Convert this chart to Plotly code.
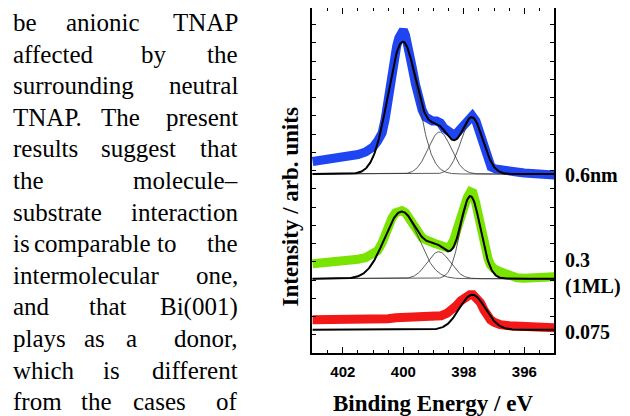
import numpy as np
import plotly.graph_objects as go

# ---------------- data (binding energy in eV, intensity in arb. units above each baseline) -------------
e_06 = [403.0, 402.75, 402.5, 402.25, 402.0, 401.75, 401.5, 401.25, 401.0, 400.85, 400.7, 400.6,
        400.48, 400.4, 400.31, 400.22, 400.15, 400.07, 400.0, 399.93, 399.85, 399.71, 399.6, 399.49,
        399.38, 399.27, 399.15, 399.04, 398.9, 398.77, 398.66, 398.5, 398.33, 398.2, 398.0, 397.85,
        397.72, 397.6, 397.5, 397.4, 397.3, 397.2, 397.1, 396.95, 396.8, 396.5, 396.25, 396.0,
        395.75, 395.5, 395.25, 395.0]
i_06 = [12.5, 13.5, 14.5, 15, 16, 17.5, 19.5, 22, 27, 33, 41, 55,
        81, 98, 117, 128, 136, 142, 144, 139, 130, 107, 90, 74,
        64, 57, 54, 53, 53, 51, 46, 42, 39, 42, 49, 55,
        58, 53, 44, 32, 20, 12, 7, 5, 4, 3, 2, 1,
        0, -1, -1, -1]

e_03 = [403.0, 402.75, 402.5, 402.25, 402.0, 401.75, 401.5, 401.25, 401.0, 400.85, 400.7, 400.6,
        400.48, 400.37, 400.26, 400.15, 400.05, 399.93, 399.82, 399.71, 399.6, 399.49, 399.38, 399.27,
        399.16, 399.05, 398.94, 398.83, 398.7, 398.55, 398.44, 398.33, 398.22, 398.11, 398.0, 397.89,
        397.78, 397.7, 397.61, 397.53, 397.45, 397.37, 397.28, 397.2, 397.12, 397.0, 396.79, 396.6,
        396.46, 396.25, 396.0, 395.75, 395.5, 395.25, 395.0]
i_03 = [15, 15.5, 16, 16.5, 17.5, 18.5, 19.5, 21, 24, 28, 36, 45,
        55, 61, 66, 68, 68, 66, 61, 54, 49, 45, 41, 39,
        37, 36, 35, 34, 33, 31, 33, 39, 50, 62, 73, 81,
        87, 86, 76, 64, 52, 40, 29, 20, 14, 10, 7, 4,
        2.5, 1, 0.5, 1, 1.5, 2, 2]

e_0075 = [403.0, 402.75, 402.5, 402.25, 402.0, 401.75, 401.5, 401.25, 401.0, 400.75, 400.5, 400.25,
          400.0, 399.75, 399.5, 399.25, 399.0, 398.75, 398.55, 398.4, 398.25, 398.1, 397.95, 397.8,
          397.7, 397.56, 397.45, 397.34, 397.22, 397.12, 397.0, 396.8, 396.5, 396.25, 396.0, 395.75,
          395.5, 395.25, 395.0]
i_0075 = [10, 10, 10, 10, 10, 9.5, 9.5, 9.5, 9.5, 10, 11, 12,
          12.5, 12, 11.5, 12, 12.5, 14, 16.5, 19.5, 24, 29, 33, 35,
          35, 32, 27, 20, 14, 10, 7.5, 5, 4, 3.5, 3.5, 3,
          3, 2.5, 2]

# fitted components: centre (eV), height, gaussian sigma (eV)
fit_06_centers = [400.02, 398.8, 397.73]
fit_06_heights = [132, 42, 56]
fit_06_sigmas = [0.485, 0.38, 0.36]

fit_03_centers = [400.06, 398.83, 397.78]
fit_03_heights = [67, 27, 82]
fit_03_sigmas = [0.56, 0.38, 0.33]

fit_0075_centers = [397.72]
fit_0075_heights = [35]
fit_0075_sigmas = [0.43]

offsets = [179.0, 74.3, 23.3]        # vertical offsets of the three spectra
labels = ["0.6nm", "0.3<br>(1ML)", "0.075"]
colors = ["#1f44f2", "#78e400", "#f21818"]

x_ticks = [402, 400, 398, 396]

paragraph = [
    ["be", "anionic", "TNAP"],
    ["affected", "by", "the"],
    ["surrounding", "neutral"],
    ["TNAP.", "The", "present"],
    ["results", "suggest", "that"],
    ["the", "molecule\u2013"],
    ["substrate", "interaction"],
    ["is", "comparable", "to", "the"],
    ["intermolecular", "one,"],
    ["and", "that", "Bi(001)"],
    ["plays", "as", "a", "donor,"],
    ["which", "is", "different"],
    ["from", "the", "cases", "of"],
]
# measured left edges (px) of the middle words of each line
middle_lefts = [
    [65], [140], [], [100], [100], [], [], [33, 156], [], [88], [83, 125], [102], [80, 132],
]

# ---------------- figure -------------
OFF = 8                      # page body margin of the browser
W, H = 630 - OFF, 416 - OFF
L, T, B = 312 - OFF, 0, 63
pw = 242
R = W - L - pw
ph = H - T - B


def px(xp):
    return (xp - OFF - L) / pw


def py(yp):
    return (H - B - (yp - OFF)) / ph


fig = go.Figure()
grid = np.linspace(403, 395, 481)

series = [
    (e_06, i_06, fit_06_centers, fit_06_heights, fit_06_sigmas),
    (e_03, i_03, fit_03_centers, fit_03_heights, fit_03_sigmas),
    (e_0075, i_0075, fit_0075_centers, fit_0075_heights, fit_0075_sigmas),
]
for k, (ee, ii, cc, hh, ss) in enumerate(series):
    off = offsets[k]
    fig.add_trace(go.Scatter(x=ee, y=[v + off for v in ii], mode="lines",
                             line=dict(color=colors[k], width=9), showlegend=False,
                             hoverinfo="skip"))
    total = np.zeros_like(grid)
    comps = []
    for c, h, s in zip(cc, hh, ss):
        g = h * np.exp(-((grid - c) ** 2) / (2 * s ** 2))
        comps.append(g)
        total += g
    if len(comps) > 1:
        for g in comps:
            fig.add_trace(go.Scatter(x=grid, y=g + off, mode="lines",
                                     line=dict(color="#333333", width=0.8),
                                     showlegend=False, hoverinfo="skip"))
    fig.add_trace(go.Scatter(x=grid, y=total + off, mode="lines",
                             line=dict(color="black", width=2), showlegend=False,
                             hoverinfo="skip"))

fig.update_layout(
    width=W, height=H, margin=dict(l=L, r=R, t=T, b=B, pad=0, autoexpand=False),
    paper_bgcolor="white", plot_bgcolor="white", showlegend=False,
    font=dict(family="Liberation Serif", color="black"),
)
fig.update_xaxes(
    range=[403.02, 395.02], autorange=False, showgrid=False, zeroline=False,
    showline=True, linecolor="black", linewidth=1.5, mirror="ticks",
    ticks="inside", ticklen=6, tickwidth=1.2, tickcolor="black",
    tickvals=x_ticks, ticktext=[str(v) for v in x_ticks],
    tickfont=dict(family="Liberation Sans", size=15, color="black", weight="bold"),
    ticklabelstandoff=4, automargin=False,
    minor=dict(dtick=0.5, ticks="inside", ticklen=3, tickwidth=1, tickcolor="black", showgrid=False),
)
fig.update_yaxes(
    range=[0, ph], autorange=False, showgrid=False, zeroline=False,
    showline=True, linecolor="black", linewidth=1.5, mirror="ticks",
    ticks="inside", ticklen=4, tickwidth=1, tickcolor="black",
    tick0=0, dtick=18.24, showticklabels=False, automargin=False,
)

ann = []
# axis titles
ann.append(dict(text="<b>Binding Energy / eV</b>", x=px(432.5), y=py(403), xref="paper", yref="paper",
                xanchor="center", yanchor="middle", showarrow=False,
                font=dict(family="Liberation Serif", size=23, color="black")))
ann.append(dict(text="<b>Intensity / arb. units</b>", x=px(290), y=py(207.5), xref="paper", yref="paper",
                xanchor="center", yanchor="middle", showarrow=False, textangle=-90,
                font=dict(family="Liberation Serif", size=23, color="black")))
# right labels
label_y = [[175], [260, 286.7], [331.7]]
for lab, ys in zip(labels, label_y):
    for part, yy in zip(lab.split("<br>"), ys):
        ann.append(dict(text="<b>" + part + "</b>", x=px(563), y=py(yy), xref="paper", yref="paper",
                        xanchor="left", yanchor="middle", showarrow=False,
                        font=dict(family="Liberation Serif", size=20, color="black")))
# paragraph on the left (justified)
for i, words in enumerate(paragraph):
    yy = 22.5 + 31.6 * i
    f = dict(family="Liberation Serif", size=25, color="black")
    ann.append(dict(text=words[0], x=px(10.5), y=py(yy), xref="paper", yref="paper",
                    xanchor="left", yanchor="middle", showarrow=False, font=f))
    ann.append(dict(text=words[-1], x=px(239.5), y=py(yy), xref="paper", yref="paper",
                    xanchor="right", yanchor="middle", showarrow=False, font=f))
    for w, lx in zip(words[1:-1], middle_lefts[i]):
        ann.append(dict(text=w, x=px(lx - 1), y=py(yy), xref="paper", yref="paper",
                        xanchor="left", yanchor="middle", showarrow=False, font=f))
fig.update_layout(annotations=ann)

fig.write_html("out.html")
